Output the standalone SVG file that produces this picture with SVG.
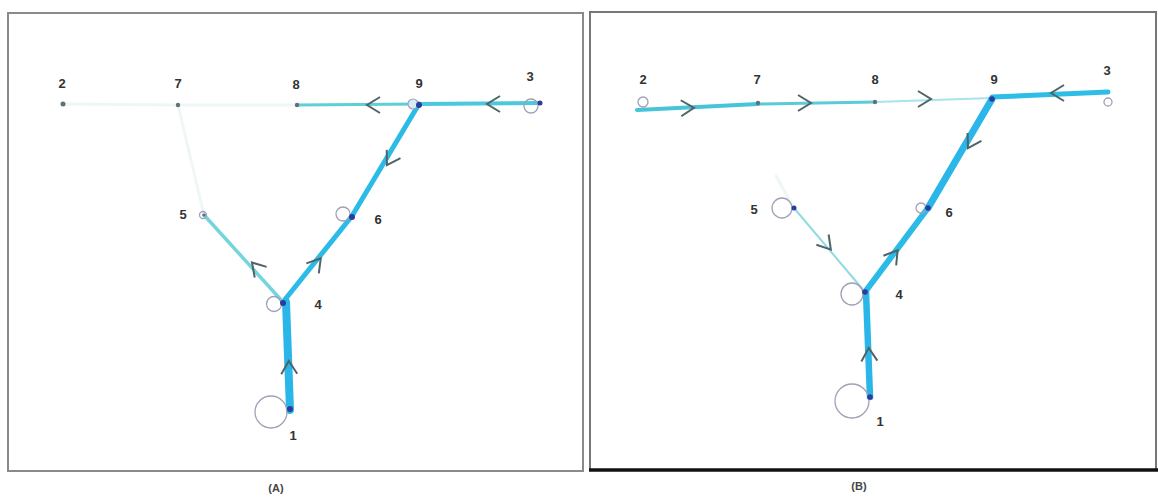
<svg xmlns="http://www.w3.org/2000/svg" width="1158" height="497" viewBox="0 0 1158 497">
<defs>
<style>
.lbl{font-family:"Liberation Sans",Arial,sans-serif;font-weight:bold;font-size:13px;fill:#333;text-anchor:middle}
.cap{font-family:"Liberation Sans",Arial,sans-serif;font-weight:bold;font-size:11px;fill:#444;text-anchor:middle}
.ring{fill:none;stroke:#a0a0b8;stroke-width:1.3}
.dot{fill:#2a3c9c}
.dotg{fill:#607078}
.e{fill:none;stroke-linecap:round}
.faint{stroke:#f0f6f6;stroke-width:3}
.chev{fill:none;stroke:#4f6468;stroke-width:2;stroke-linejoin:miter}
</style>
<path id="ch" d="M-7,-8 L6,0 L-7,8"/>
</defs>
<rect width="1158" height="497" fill="#fff"/>
<!-- frames -->
<rect x="8" y="13" width="575" height="458" fill="none" stroke="#8a8a8a" stroke-width="2"/>
<path d="M590,471 L590,12 L1156,12 L1156,471" fill="none" stroke="#777" stroke-width="2"/>
<line x1="589" y1="470" x2="1158" y2="470" stroke="#111" stroke-width="3.5"/>
<text class="cap" x="276" y="492">(A)</text>
<text class="cap" x="859" y="490">(B)</text>

<g id="connectors">
<!-- Panel A -->
<line class="e faint" x1="63" y1="104" x2="178" y2="105"/>
<line class="e faint" x1="178" y1="105" x2="297" y2="105"/>
<line class="e faint" x1="178" y1="105" x2="204" y2="215"/>
<line class="e" x1="297" y1="105" x2="419" y2="104" stroke="#5ecfd4" stroke-width="3"/>
<line class="e" x1="419" y1="104" x2="540" y2="103" stroke="#4cc8dc" stroke-width="4"/>
<line class="e" x1="419" y1="104" x2="352" y2="216" stroke="#2cbbe6" stroke-width="5"/>
<line class="e" x1="352" y1="216" x2="283" y2="302" stroke="#2cbbe6" stroke-width="5"/>
<line class="e" x1="283" y1="302" x2="204" y2="215" stroke="#74d6dc" stroke-width="3.5"/>
<line class="e" x1="286" y1="302" x2="290" y2="410" stroke="#2ab6e8" stroke-width="8"/>
<use href="#ch" class="chev" transform="translate(373,105) rotate(180)"/>
<use href="#ch" class="chev" transform="translate(493,104) rotate(180)"/>
<use href="#ch" class="chev" transform="translate(390,160) rotate(121)"/>
<use href="#ch" class="chev" transform="translate(256,267) rotate(-132)"/>
<use href="#ch" class="chev" transform="translate(317,263) rotate(-51)"/>
<use href="#ch" class="chev" transform="translate(289,367) rotate(-92)"/>
<!-- Panel B -->
<line class="e faint" x1="794" y1="208" x2="776" y2="176"/>
<line class="e" x1="637" y1="110" x2="758" y2="104" stroke="#48c4d8" stroke-width="4"/>
<line class="e" x1="758" y1="104" x2="875" y2="102" stroke="#5ccad8" stroke-width="3"/>
<line class="e" x1="875" y1="102" x2="992" y2="98" stroke="#a8e4ea" stroke-width="2"/>
<line class="e" x1="992" y1="97" x2="1108" y2="92" stroke="#2ebde6" stroke-width="5"/>
<line class="e" x1="992" y1="99" x2="928" y2="208" stroke="#2ab6e8" stroke-width="7"/>
<line class="e" x1="928" y1="208" x2="865" y2="292" stroke="#2cbbe6" stroke-width="6"/>
<line class="e" x1="794" y1="208" x2="865" y2="292" stroke="#8edce0" stroke-width="2"/>
<line class="e" x1="866" y1="292" x2="870" y2="397" stroke="#2ab6e8" stroke-width="6.5"/>
<use href="#ch" class="chev" transform="translate(688,108) rotate(-2)"/>
<use href="#ch" class="chev" transform="translate(805,103)"/>
<use href="#ch" class="chev" transform="translate(925,99)"/>
<use href="#ch" class="chev" transform="translate(1057,93) rotate(180)"/>
<use href="#ch" class="chev" transform="translate(971,143) rotate(120)"/>
<use href="#ch" class="chev" transform="translate(827,245) rotate(50)"/>
<use href="#ch" class="chev" transform="translate(894,255) rotate(-53)"/>
<use href="#ch" class="chev" transform="translate(869,354) rotate(-93)"/>
</g>

<!-- Panel A nodes -->
<g id="A-n2"><circle class="dotg" cx="63" cy="104" r="2.5"/><text class="lbl" x="62" y="88">2</text></g>
<g id="A-n7"><circle class="dotg" cx="178" cy="105" r="2.2"/><text class="lbl" x="178" y="88">7</text></g>
<g id="A-n8"><circle class="dotg" cx="297" cy="105" r="2.2"/><text class="lbl" x="296" y="89">8</text></g>
<g id="A-n9"><circle cx="413" cy="104" r="5" fill="#d8ecf6" stroke="#a0a0b8" stroke-width="1.2"/><circle class="dot" cx="419" cy="105" r="3"/><text class="lbl" x="419" y="88">9</text></g>
<g id="A-n3"><circle class="ring" cx="531" cy="106" r="7"/><circle class="dot" cx="540" cy="103" r="2.5"/><text class="lbl" x="530" y="81">3</text></g>
<g id="A-n5"><circle class="ring" cx="203" cy="215" r="3.5"/><circle class="dotg" cx="204" cy="215" r="1.6"/><text class="lbl" x="183" y="219">5</text></g>
<g id="A-n6"><circle class="ring" cx="343" cy="214" r="7"/><circle class="dot" cx="352" cy="217" r="3"/><text class="lbl" x="378" y="224">6</text></g>
<g id="A-n4"><circle class="ring" cx="274" cy="304" r="7.5"/><circle class="dot" cx="283" cy="303" r="3"/><text class="lbl" x="318" y="309">4</text></g>
<g id="A-n1"><circle class="ring" cx="271" cy="412" r="16"/><circle class="dot" cx="290" cy="409" r="3"/><text class="lbl" x="293" y="440">1</text></g>

<!-- Panel B nodes -->
<g id="B-n2"><circle class="ring" cx="643" cy="102" r="5"/><text class="lbl" x="643" y="84">2</text></g>
<g id="B-n7"><circle class="dotg" cx="758" cy="103" r="2.2"/><text class="lbl" x="757" y="84">7</text></g>
<g id="B-n8"><circle class="dotg" cx="875" cy="102" r="2.2"/><text class="lbl" x="875" y="84">8</text></g>
<g id="B-n9"><circle class="dot" cx="992" cy="99" r="2.8"/><text class="lbl" x="994" y="84">9</text></g>
<g id="B-n3"><circle class="ring" cx="1108" cy="102" r="4"/><text class="lbl" x="1107" y="75">3</text></g>
<g id="B-n5"><circle class="ring" cx="782" cy="208" r="10"/><circle class="dot" cx="794" cy="208" r="2.5"/><text class="lbl" x="754" y="214">5</text></g>
<g id="B-n6"><circle class="ring" cx="921" cy="208" r="5"/><circle class="dot" cx="928" cy="208" r="2.8"/><text class="lbl" x="949" y="217">6</text></g>
<g id="B-n4"><circle class="ring" cx="852" cy="294" r="11"/><circle class="dot" cx="865" cy="292" r="2.8"/><text class="lbl" x="899" y="299">4</text></g>
<g id="B-n1"><circle class="ring" cx="852" cy="401" r="17"/><circle class="dot" cx="870" cy="397" r="2.8"/><text class="lbl" x="880" y="426">1</text></g>
</svg>
